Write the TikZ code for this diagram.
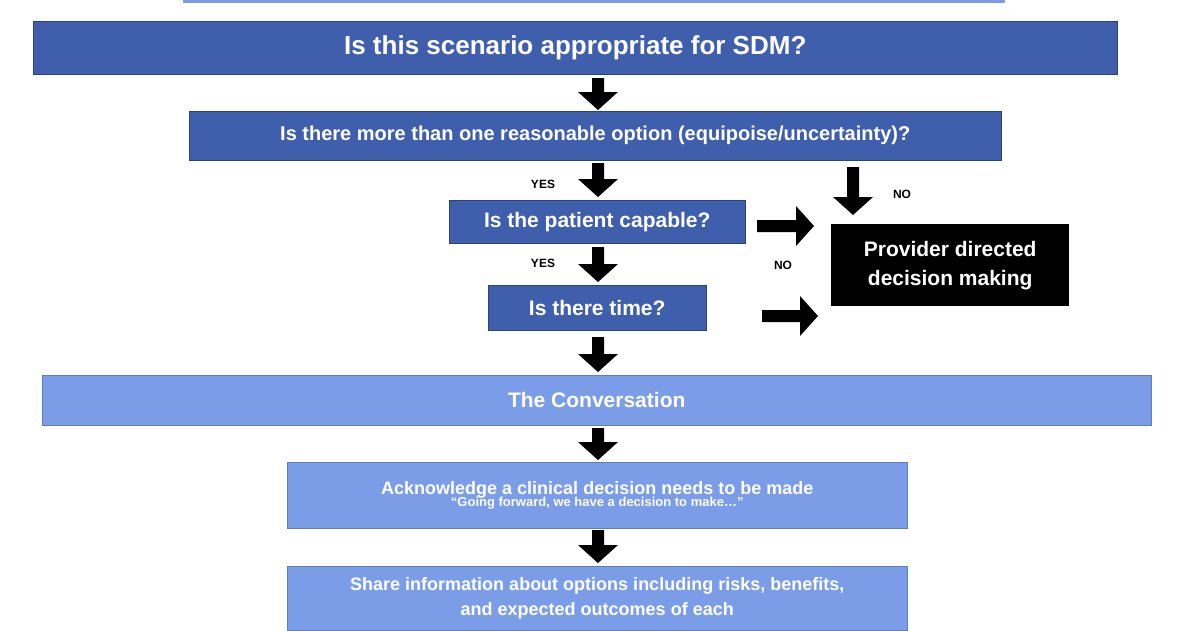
\documentclass[tikz,border=0pt]{standalone}
\usepackage{fontspec}
\setmainfont{Liberation Sans}
\begin{document}
\begin{tikzpicture}[x=1pt,y=-1pt,
  dark/.style={fill=darkb,draw=darkb!70!black,line width=0.5pt,text=white,font=\bfseries,align=center,inner sep=0pt,anchor=north west},
  light/.style={fill=lightb,draw=lightb!80!black,line width=0.5pt,text=white,font=\bfseries,align=center,inner sep=0pt,anchor=north west},
  lbl/.style={font=\bfseries\fontsize{12}{14}\selectfont}]
\definecolor{darkb}{HTML}{3F5FAD}
\definecolor{lightb}{HTML}{7B9DE8}
\newcommand{\darr}[3]{\fill (#1-6,#2) -- (#1+6,#2) -- (#1+6,#3-18) -- (#1+20,#3-18) -- (#1,#3) -- (#1-20,#3-18) -- (#1-6,#3-18) -- cycle;}
\newcommand{\rarr}[3]{\fill (#1,#3-6) -- (#1,#3+6) -- (#2-18,#3+6) -- (#2-18,#3+20) -- (#2,#3) -- (#2-18,#3-20) -- (#2-18,#3-6) -- cycle;}
\useasboundingbox (0,0) rectangle (1200,630);
\fill[white] (0,0) rectangle (1200,630);
\fill[lightb] (183,0) rectangle (1005,2.5);
\node[dark,minimum width=1084,minimum height=53,font=\bfseries\fontsize{26}{30}\selectfont] (b1) at (33,21) {Is this scenario appropriate for SDM?};
\node[dark,minimum width=812,minimum height=49,font=\bfseries\fontsize{20}{24}\selectfont] (b2) at (189,111) {Is there more than one reasonable option (equipoise/uncertainty)?};
\node[dark,minimum width=296,minimum height=43,font=\bfseries\fontsize{21}{24}\selectfont] (b3) at (449,200) {Is the patient capable?};
\node[dark,minimum width=218,minimum height=45,font=\bfseries\fontsize{21}{24}\selectfont] (b4) at (488,285) {Is there time?};
\node[light,minimum width=1109,minimum height=50,font=\bfseries\fontsize{21}{24}\selectfont] (b5) at (42,375) {The Conversation};
\node[light,minimum width=620,minimum height=66] (b6) at (287,462) {{\fontsize{18}{21}\selectfont Acknowledge a clinical decision needs to be made}\\[-2pt]{\fontsize{13}{16}\selectfont “Going forward, we have a decision to make…”}};
\node[light,minimum width=620,minimum height=64,font=\bfseries\fontsize{18}{25}\selectfont] (b7) at (287,566) {Share information about options including risks, benefits,\\and expected outcomes of each};
\node[fill=black,text=white,font=\bfseries\fontsize{21}{29}\selectfont,align=center,inner sep=0pt,anchor=north west,minimum width=238,minimum height=82] (pd) at (831,224) {Provider directed\\decision making};
\darr{598}{78}{110}
\darr{598}{163}{197}
\darr{598}{247}{282}
\darr{598}{337}{372}
\darr{598}{428}{460}
\darr{598}{530}{563}
\darr{853}{167}{215}
\rarr{757}{814}{226}
\rarr{762}{818}{316}
\node[lbl] (y1) at (543,184) {YES};
\node[lbl] (y2) at (543,263) {YES};
\node[lbl] (n1) at (902,194) {NO};
\node[lbl] (n2) at (783,265) {NO};
\end{tikzpicture}
\end{document}
